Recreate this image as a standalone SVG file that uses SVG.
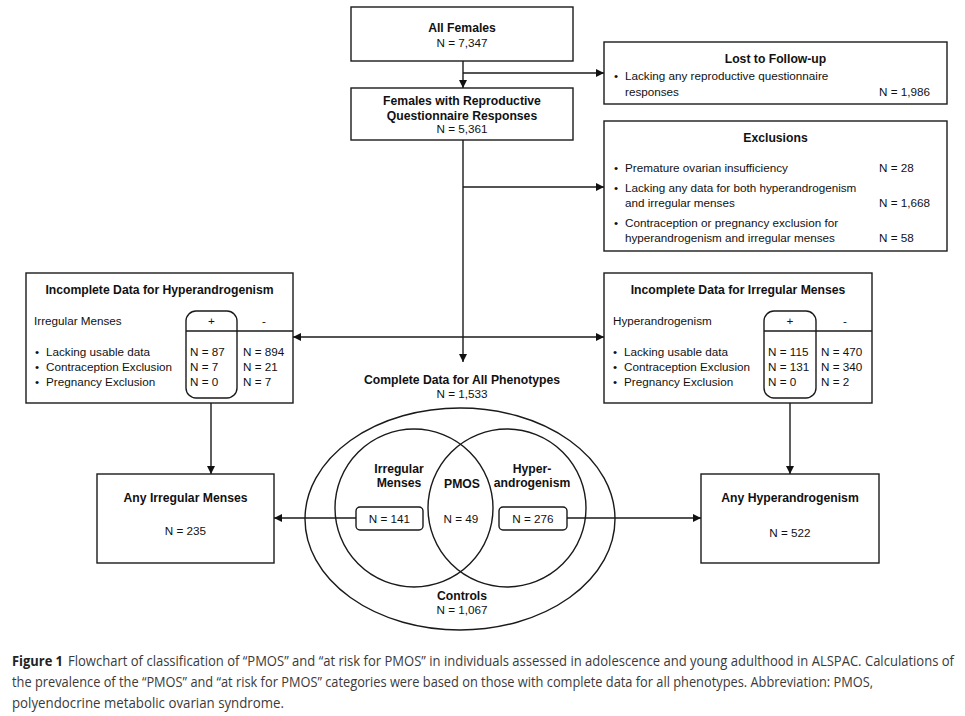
<svg xmlns="http://www.w3.org/2000/svg" width="965" height="716" viewBox="0 0 965 716">
<defs>
<marker id="arr" viewBox="0 0 10 10" refX="10" refY="5" markerWidth="8" markerHeight="8" markerUnits="userSpaceOnUse" orient="auto-start-reverse">
<path d="M0,0 L10,5 L0,10 z" fill="#111"/>
</marker>
<style>
.box{fill:#fff;stroke:#1a1a1a;stroke-width:1.4}
.ln{fill:none;stroke:#1a1a1a;stroke-width:1.4}
.t{font-family:"Liberation Sans",Arial,sans-serif;font-size:11.7px;fill:#111}
.b{font-family:"Liberation Sans",Arial,sans-serif;font-size:12.2px;font-weight:bold;fill:#111}
.c{text-anchor:middle}
.cap{font-family:"Open Sans","Liberation Sans",sans-serif;font-size:14px;fill:#3a3a3a}
.capb{font-family:"Open Sans","Liberation Sans",sans-serif;font-size:14px;font-weight:bold;fill:#222}
</style>
</defs>
<rect width="965" height="716" fill="#fff"/>

<g id="connectors">
<line class="ln" x1="463" y1="61" x2="463" y2="88" marker-end="url(#arr)"/>
<line class="ln" x1="463" y1="73" x2="604" y2="73" marker-end="url(#arr)"/>
<line class="ln" x1="463" y1="140" x2="463" y2="362" marker-end="url(#arr)"/>
<line class="ln" x1="463" y1="187" x2="604" y2="187" marker-end="url(#arr)"/>
<line class="ln" x1="293" y1="337" x2="604" y2="337" marker-start="url(#arr)" marker-end="url(#arr)"/>
<line class="ln" x1="211" y1="398" x2="211" y2="474" marker-end="url(#arr)"/>
<line class="ln" x1="790" y1="398" x2="790" y2="474" marker-end="url(#arr)"/>
<line class="ln" x1="356" y1="518" x2="274" y2="518" marker-end="url(#arr)"/>
<line class="ln" x1="567" y1="518" x2="701" y2="518" marker-end="url(#arr)"/>
</g>

<g id="all-females">
<rect class="box" x="351" y="7" width="222" height="54"/>
<text class="b c" x="462" y="31.5">All Females</text>
<text class="t c" x="462" y="47">N = 7,347</text>
</g>

<g id="reproductive">
<rect class="box" x="351" y="88" width="222" height="52"/>
<text class="b c" x="462" y="104.5">Females with Reproductive</text>
<text class="b c" x="462" y="119.5">Questionnaire Responses</text>
<text class="t c" x="462" y="133">N = 5,361</text>
</g>

<g id="lost">
<rect class="box" x="604" y="42" width="343" height="62"/>
<text class="b c" x="775.5" y="62.5">Lost to Follow-up</text>
<text class="t" x="614" y="80">•</text>
<text class="t" x="625" y="80">Lacking any reproductive questionnaire</text>
<text class="t" x="625" y="96">responses</text>
<text class="t" x="879" y="96">N = 1,986</text>
</g>

<g id="exclusions">
<rect class="box" x="604" y="121" width="343" height="130"/>
<text class="b c" x="775.5" y="141.5">Exclusions</text>
<text class="t" x="614" y="172">•</text>
<text class="t" x="625" y="172">Premature ovarian insufficiency</text>
<text class="t" x="879" y="172">N = 28</text>
<text class="t" x="614" y="192">•</text>
<text class="t" x="625" y="192">Lacking any data for both hyperandrogenism</text>
<text class="t" x="625" y="207">and irregular menses</text>
<text class="t" x="879" y="207">N = 1,668</text>
<text class="t" x="614" y="227">•</text>
<text class="t" x="625" y="227">Contraception or pregnancy exclusion for</text>
<text class="t" x="625" y="242">hyperandrogenism and irregular menses</text>
<text class="t" x="879" y="242">N = 58</text>
</g>

<g id="incomplete-hyper">
<rect class="box" x="26" y="273" width="267" height="130"/>
<text class="b c" x="159.5" y="293.5">Incomplete Data for Hyperandrogenism</text>
<text class="t" x="34" y="325">Irregular Menses</text>
<rect class="ln" x="186" y="311" width="51" height="87" rx="10"/>
<line class="ln" x1="186" y1="331" x2="293" y2="331"/>
<text class="t c" x="211.5" y="325">+</text>
<text class="t c" x="264" y="325">-</text>
<text class="t" x="35" y="356">•</text>
<text class="t" x="46" y="356">Lacking usable data</text>
<text class="t" x="35" y="371">•</text>
<text class="t" x="46" y="371">Contraception Exclusion</text>
<text class="t" x="35" y="386">•</text>
<text class="t" x="46" y="386">Pregnancy Exclusion</text>
<text class="t" x="190" y="356">N = 87</text>
<text class="t" x="190" y="371">N = 7</text>
<text class="t" x="190" y="386">N = 0</text>
<text class="t" x="243" y="356">N = 894</text>
<text class="t" x="243" y="371">N = 21</text>
<text class="t" x="243" y="386">N = 7</text>
</g>

<g id="incomplete-menses">
<rect class="box" x="604" y="273" width="268" height="130"/>
<text class="b c" x="738" y="293.5">Incomplete Data for Irregular Menses</text>
<text class="t" x="613" y="325">Hyperandrogenism</text>
<rect class="ln" x="764" y="311" width="52" height="87" rx="10"/>
<line class="ln" x1="764" y1="331" x2="872" y2="331"/>
<text class="t c" x="790" y="325">+</text>
<text class="t c" x="845" y="325">-</text>
<text class="t" x="613" y="356">•</text>
<text class="t" x="624" y="356">Lacking usable data</text>
<text class="t" x="613" y="371">•</text>
<text class="t" x="624" y="371">Contraception Exclusion</text>
<text class="t" x="613" y="386">•</text>
<text class="t" x="624" y="386">Pregnancy Exclusion</text>
<text class="t" x="768" y="356">N = 115</text>
<text class="t" x="768" y="371">N = 131</text>
<text class="t" x="768" y="386">N = 0</text>
<text class="t" x="821" y="356">N = 470</text>
<text class="t" x="821" y="371">N = 340</text>
<text class="t" x="821" y="386">N = 2</text>
</g>

<g id="complete-data">
<text class="b c" x="462" y="383.5">Complete Data for All Phenotypes</text>
<text class="t c" x="462" y="397.5">N = 1,533</text>
</g>

<g id="venn">
<ellipse class="ln" cx="460" cy="519" rx="155" ry="111"/>
<circle class="ln" cx="414" cy="508" r="79"/>
<circle class="ln" cx="507" cy="508" r="79"/>
<text class="b c" x="399" y="472.5">Irregular</text>
<text class="b c" x="399" y="486.5">Menses</text>
<text class="b c" x="462" y="487.5">PMOS</text>
<text class="b c" x="532" y="472.5">Hyper-</text>
<text class="b c" x="532" y="486.5">androgenism</text>
<text class="t c" x="461" y="523">N = 49</text>
<text class="b c" x="462" y="599.5">Controls</text>
<text class="t c" x="462" y="613.5">N = 1,067</text>
</g>

<g id="n141">
<rect class="box" x="356" y="507" width="67" height="23" rx="4"/>
<text class="t c" x="389.5" y="523">N = 141</text>
</g>

<g id="n276">
<rect class="box" x="499" y="507" width="68" height="23" rx="4"/>
<text class="t c" x="533" y="523">N = 276</text>
</g>

<g id="any-menses">
<rect class="box" x="97" y="474" width="177" height="89"/>
<text class="b c" x="185.5" y="501.5">Any Irregular Menses</text>
<text class="t c" x="185.5" y="534.5">N = 235</text>
</g>

<g id="any-hyper">
<rect class="box" x="701" y="474" width="178" height="89"/>
<text class="b c" x="790" y="501.5">Any Hyperandrogenism</text>
<text class="t c" x="790" y="537">N = 522</text>
</g>

<g id="caption">
<text class="capb" x="12" y="666" textLength="51" lengthAdjust="spacingAndGlyphs">Figure 1</text>
<text class="cap" x="68" y="666" textLength="886" lengthAdjust="spacingAndGlyphs">Flowchart of classification of “PMOS” and “at risk for PMOS” in individuals assessed in adolescence and young adulthood in ALSPAC. Calculations of</text>
<text class="cap" x="12" y="687" textLength="861" lengthAdjust="spacingAndGlyphs">the prevalence of the “PMOS” and “at risk for PMOS” categories were based on those with complete data for all phenotypes. Abbreviation: PMOS,</text>
<text class="cap" x="12" y="708" textLength="272" lengthAdjust="spacingAndGlyphs">polyendocrine metabolic ovarian syndrome.</text>
</g>
</svg>
